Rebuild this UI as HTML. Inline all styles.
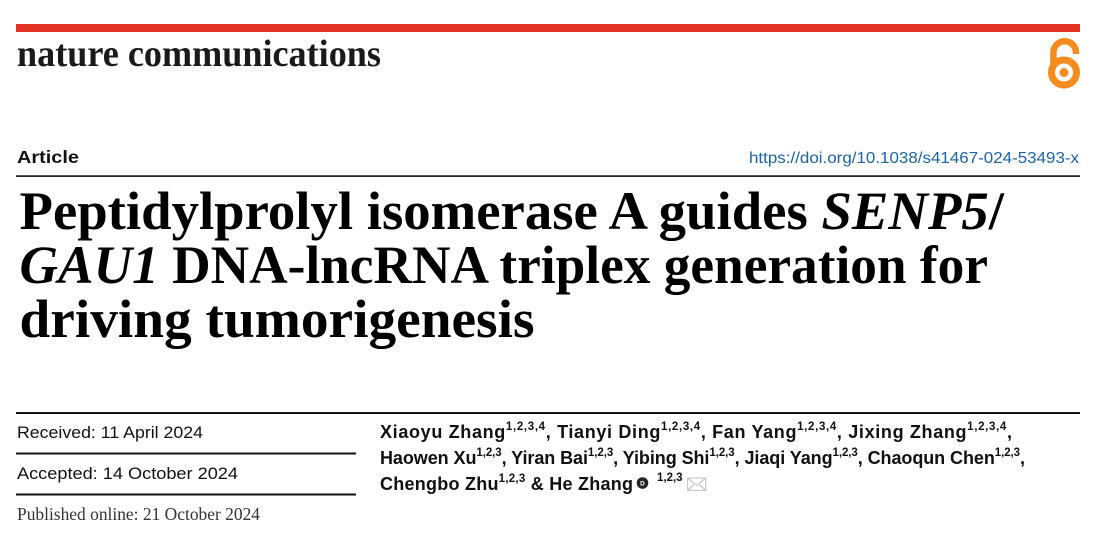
<!DOCTYPE html>
<html>
<head>
<meta charset="utf-8">
<style>
  html,body{margin:0;padding:0;background:#fff;}
  svg{display:block;}
  .logo{font-family:"Liberation Serif",serif;font-weight:bold;fill:#1a1a1a;}
  .sans{font-family:"Liberation Sans",sans-serif;}
  .title{font-family:"Liberation Serif",serif;font-weight:bold;fill:#000;font-size:54px;}
  .au{font-family:"Liberation Sans",sans-serif;font-weight:bold;fill:#111;font-size:18px;}
</style>
</head>
<body>
<svg width="1100" height="533" viewBox="0 0 1100 533" xmlns="http://www.w3.org/2000/svg">
  <rect x="0" y="0" width="1100" height="533" fill="#fff"/>
  <!-- red bar -->
  <rect x="16" y="24" width="1064" height="8" fill="#E53326"/>
  <!-- logo -->
  <text class="logo" x="17" y="66" font-size="38" textLength="364" lengthAdjust="spacingAndGlyphs">nature communications</text>
  <!-- open access icon -->
  <g fill="none" stroke="#F68B1F">
    <path d="M1053.4 64 V52.6 A11.3 11.3 0 0 1 1076 52.6 V54" stroke-width="6.5"/>
    <circle cx="1064" cy="72.5" r="12.5" stroke-width="7"/>
  </g>
  <circle cx="1064" cy="72.5" r="4.5" fill="#F68B1F"/>
  <!-- Article / DOI -->
  <text class="sans" x="17" y="163" font-size="17.5" font-weight="bold" fill="#111" textLength="62" lengthAdjust="spacingAndGlyphs">Article</text>
  <text class="sans" x="749" y="163" font-size="15.5" fill="#1C64A6" textLength="330" lengthAdjust="spacingAndGlyphs">https://doi.org/10.1038/s41467-024-53493-x</text>
  <rect x="16" y="175.3" width="1064" height="1.6" fill="#111"/>
  <!-- Title -->
  <text class="title" x="19.5" y="229" textLength="984.5" lengthAdjust="spacingAndGlyphs">Peptidylprolyl isomerase A guides <tspan font-style="italic">SENP5</tspan>/</text>
  <text class="title" x="19.5" y="283" textLength="968.5" lengthAdjust="spacingAndGlyphs"><tspan font-style="italic">GAU1</tspan> DNA-lncRNA triplex generation for</text>
  <text class="title" x="19.5" y="337" textLength="515" lengthAdjust="spacingAndGlyphs">driving tumorigenesis</text>
  <!-- rules bottom -->
  <rect x="16" y="412" width="1064" height="2" fill="#111"/>
  <rect x="16" y="452.5" width="340" height="2" fill="#111"/>
  <rect x="16" y="493.5" width="340" height="2" fill="#111"/>
  <!-- dates -->
  <text class="sans" x="17" y="438" font-size="16.8" fill="#111" textLength="186" lengthAdjust="spacingAndGlyphs">Received: 11 April 2024</text>
  <text class="sans" x="17" y="479" font-size="16.8" fill="#111" textLength="221" lengthAdjust="spacingAndGlyphs">Accepted: 14 October 2024</text>
  <text x="17" y="520" font-family="Liberation Serif, serif" font-size="17.4" fill="#333" textLength="243" lengthAdjust="spacingAndGlyphs">Published online: 21 October 2024</text>
  <!-- Authors -->
  <text class="au" x="380" y="438" textLength="632" lengthAdjust="spacing">Xiaoyu Zhang<tspan dy="-8" style="font-size:11.5px">1,2,3,4</tspan><tspan dy="8">, Tianyi Ding</tspan><tspan dy="-8" style="font-size:11.5px">1,2,3,4</tspan><tspan dy="8">, Fan Yang</tspan><tspan dy="-8" style="font-size:11.5px">1,2,3,4</tspan><tspan dy="8">, Jixing Zhang</tspan><tspan dy="-8" style="font-size:11.5px">1,2,3,4</tspan><tspan dy="8">,</tspan></text>
  <text class="au" x="380" y="464" textLength="645" lengthAdjust="spacing">Haowen Xu<tspan dy="-8" style="font-size:11.5px">1,2,3</tspan><tspan dy="8">, Yiran Bai</tspan><tspan dy="-8" style="font-size:11.5px">1,2,3</tspan><tspan dy="8">, Yibing Shi</tspan><tspan dy="-8" style="font-size:11.5px">1,2,3</tspan><tspan dy="8">, Jiaqi Yang</tspan><tspan dy="-8" style="font-size:11.5px">1,2,3</tspan><tspan dy="8">, Chaoqun Chen</tspan><tspan dy="-8" style="font-size:11.5px">1,2,3</tspan><tspan dy="8">,</tspan></text>
  <text class="au" x="380" y="490" textLength="253" lengthAdjust="spacing">Chengbo Zhu<tspan dy="-8" style="font-size:11.5px">1,2,3</tspan><tspan dy="8"> &amp; He Zhang</tspan></text>
  <!-- ORCID -->
  <circle cx="642.5" cy="483" r="5.8" fill="#222"/>
  <text x="642.5" y="485.3" font-family="Liberation Sans, sans-serif" font-weight="bold" font-size="6.5" fill="#fff" text-anchor="middle">D</text>
  <text x="657" y="481" font-family="Liberation Sans, sans-serif" font-weight="bold" fill="#111" style="font-size:11.5px">1,2,3</text>
  <!-- envelope -->
  <g fill="none" stroke="#c9c9c9" stroke-width="1.2">
    <rect x="687.6" y="478" width="18" height="12.5"/>
    <path d="M687.6 478 L696.6 485.5 L705.6 478"/>
    <path d="M687.6 490.5 L694 484.5 M705.6 490.5 L699.2 484.5"/>
  </g>
</svg>
</body>
</html>
